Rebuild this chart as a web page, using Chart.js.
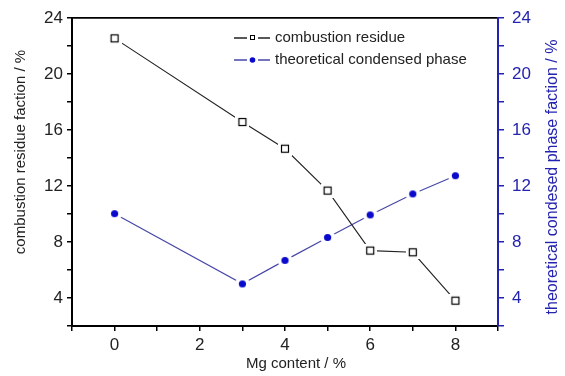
<!DOCTYPE html>
<html><head><meta charset="utf-8">
<script src="https://cdn.jsdelivr.net/npm/chart.js@4"></script>
<style>html,body{margin:0;padding:0;background:#fff}#wrap{width:565px;height:376px}</style>
</head><body><div id="wrap"><canvas id="c" width="565" height="376"></canvas></div>
<script>
const mgContent = [0, 3, 4, 5, 6, 7, 8];
const combustionResidue = [22.56, 16.58, 14.67, 11.68, 7.39, 7.27, 3.81];
const theoreticalCondensed = [10.03, 5.01, 6.69, 8.33, 9.94, 11.44, 12.74];
const yTickLabels = [4, 8, 12, 16, 20, 24];
const xTickLabels = [0, 2, 4, 6, 8];
const seriesLabels = ['combustion residue', 'theoretical condensed phase'];
const axisTitles = {
  x: 'Mg content / %',
  y: 'combustion residue faction / %',
  y1: 'theoretical condesed phase faction / %'
};

const BLUE = '#2323b0';
const FONT = '"Liberation Sans", Arial, sans-serif';

function squareMarker(size) {
  const c = document.createElement('canvas');
  c.width = c.height = size + 6;
  const g = c.getContext('2d');
  g.fillStyle = '#fff';
  g.fillRect(0, 0, c.width, c.height);
  g.strokeStyle = '#000';
  g.lineWidth = 1.2;
  g.strokeRect(3.5, 3.5, size - 1, size - 1);
  return c;
}
function circleMarker(r) {
  const s = Math.ceil(2 * r + 7);
  const c = document.createElement('canvas');
  c.width = c.height = s;
  const g = c.getContext('2d');
  g.fillStyle = '#fff';
  g.beginPath(); g.arc(s / 2, s / 2, s / 2, 0, Math.PI * 2); g.fill();
  g.fillStyle = '#0a0acc';
  g.beginPath(); g.arc(s / 2, s / 2, r, 0, Math.PI * 2); g.fill();
  return c;
}
const sq = squareMarker(8);
const ci = circleMarker(3.6);

const titlePlugin = {
  id: 'titles',
  afterDraw(chart) {
    const ctx = chart.ctx;
    ctx.save();
    ctx.textAlign = 'center';
    ctx.textBaseline = 'middle';
    // bottom title
    ctx.fillStyle = '#222';
    ctx.font = '15px ' + FONT;
    ctx.fillText(axisTitles.x, 296, 364);
    // left title
    ctx.save(); ctx.translate(21, 152); ctx.rotate(-Math.PI / 2);
    ctx.fillText(axisTitles.y, 0, 0); ctx.restore();
    // right title
    ctx.fillStyle = BLUE;
    ctx.font = '16px ' + FONT;
    ctx.save(); ctx.translate(553, 177); ctx.rotate(-Math.PI / 2);
    ctx.fillText(axisTitles.y1, 0, 0); ctx.restore();
    // legend
    ctx.textAlign = 'left';
    ctx.font = '15px ' + FONT;
    const rows = [
      {y: 38, line: '#222', text: '#222', kind: 'sq'},
      {y: 60, line: '#4848a8', text: '#222', kind: 'ci'}
    ];
    rows.forEach((r, i) => {
      ctx.strokeStyle = r.line;
      ctx.lineWidth = 1.3;
      ctx.beginPath();
      ctx.moveTo(234, r.y); ctx.lineTo(247, r.y);
      ctx.moveTo(258, r.y); ctx.lineTo(270, r.y);
      ctx.stroke();
      if (r.kind === 'sq') {
        ctx.strokeStyle = '#000'; ctx.lineWidth = 1;
        ctx.strokeRect(250.5, r.y - 2.5, 4, 4);
      } else {
        ctx.fillStyle = '#0a0acc';
        ctx.beginPath(); ctx.arc(252.5, r.y, 2.8, 0, Math.PI * 2); ctx.fill();
      }
      ctx.fillStyle = r.text;
      ctx.fillText(seriesLabels[i], 275, r.y);
    });
    ctx.restore();
  }
};

new Chart(document.getElementById('c'), {
  type: 'line',
  data: {
    datasets: [
      {
        label: seriesLabels[0],
        data: mgContent.map((x, i) => ({x, y: combustionResidue[i]})),
        borderColor: '#222', borderWidth: 1.1,
        pointStyle: sq, pointRadius: 5, yAxisID: 'y', xAxisID: 'x', tension: 0
      },
      {
        label: seriesLabels[1],
        data: mgContent.map((x, i) => ({x, y: theoreticalCondensed[i]})),
        borderColor: '#4848a8', borderWidth: 1.2,
        pointStyle: ci, pointRadius: 5, yAxisID: 'y1', xAxisID: 'x', tension: 0
      }
    ]
  },
  options: {
    responsive: false,
    animation: false,
    devicePixelRatio: 1,
    layout: {padding: {top: 15, left: 0, right: 0, bottom: 0}},
    plugins: {legend: {display: false}, tooltip: {enabled: false}},
    scales: {
      x: {
        type: 'linear', position: 'bottom', min: -1, max: 9,
        ticks: {stepSize: 1, autoSkip: false, maxRotation: 0,
          callback: v => xTickLabels.includes(v) ? String(v) : '',
          color: '#222', font: {family: FONT, size: 17}, padding: 4},
        grid: {drawOnChartArea: false, drawTicks: true, tickLength: 5, color: '#000', lineWidth: 1.5},
        border: {color: '#000', width: 2},
        afterFit: s => { s.height = 50; }
      },
      xTop: {
        type: 'linear', position: 'top', min: -1, max: 9,
        ticks: {display: false}, grid: {display: false},
        border: {display: true, color: '#000', width: 1.8},
        afterFit: s => { s.height = 0; }
      },
      y: {
        type: 'linear', position: 'left', min: 2, max: 24,
        ticks: {stepSize: 2, autoSkip: false,
          callback: v => yTickLabels.includes(v) ? String(v) : '',
          color: '#222', font: {family: FONT, size: 17}, padding: 4},
        grid: {drawOnChartArea: false, drawTicks: true, tickLength: 5, color: '#000', lineWidth: 1.5},
        border: {color: '#000', width: 2},
        afterFit: s => { s.width = 72; }
      },
      y1: {
        type: 'linear', position: 'right', min: 2, max: 24,
        ticks: {stepSize: 2, autoSkip: false,
          callback: v => yTickLabels.includes(v) ? String(v) : '',
          color: BLUE, font: {family: FONT, size: 17}, padding: 8},
        grid: {drawOnChartArea: false, drawTicks: true, tickLength: 6, color: BLUE, lineWidth: 1.5},
        border: {color: BLUE, width: 2},
        afterFit: s => { s.width = 67; }
      }
    }
  },
  plugins: [titlePlugin]
});
</script>
</body></html>
